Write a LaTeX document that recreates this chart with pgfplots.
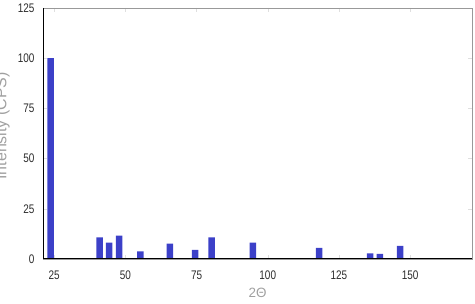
\documentclass[border=0pt]{standalone}
\usepackage{fontspec}
\setmainfont{Liberation Sans}
\newfontfamily\narrow[FakeStretch=0.8]{Liberation Sans}
\usepackage{pgfplots}
\pgfplotsset{compat=1.18}
\definecolor{barblue}{RGB}{60,64,200}
\definecolor{labgrey}{RGB}{160,160,160}
\definecolor{tickgrey}{RGB}{45,45,45}
\begin{document}
\begin{tikzpicture}
\useasboundingbox (0,0) rectangle (475bp,304bp);
\begin{axis}[
  at={(43bp,45bp)}, anchor=south west,
  scale only axis, width=429bp, height=251bp,
  xmin=21.1, xmax=171.7, ymin=0, ymax=125,
  xtick={25,50,75,100,125,150},
  ytick={0,25,50,75,100,125},
  ybar, bar width=6.5bp,
  axis line style={draw=gray!80, line width=0.6pt},
  tick style={draw=gray!25, line width=0.5pt},
  major tick length=4bp,
  tick align=inside,
  x tick label style={font=\narrow\fontsize{12.5}{13}\selectfont, text=tickgrey, yshift=-8bp},
  y tick label style={font=\narrow\fontsize{12.5}{13}\selectfont, text=tickgrey, xshift=-5bp},
  /pgf/number format/assume math mode=true,
  xlabel={2Θ},
  xlabel style={font=\fontsize{13.5}{14}\selectfont, text=labgrey, at={(axis description cs:0.5,0)}, anchor=center, yshift=-34bp},
  ylabel={Intensity (CPS)},
  ylabel style={font=\fontsize{16}{17}\selectfont, text=labgrey, at={(axis description cs:-0.0851,0.53)}, anchor=base},
]
\addplot[fill=barblue, draw=none] coordinates {
(23.8,100) (41.0,10.8) (44.3,8.1) (47.8,11.6) (55.3,3.8) (65.6,7.6)
(74.5,4.6) (80.3,10.8) (94.8,8.1) (118.0,5.5) (135.9,2.8) (139.4,2.5) (146.5,6.5)
};
\draw[black, line width=1.1pt] (rel axis cs:0,1) -- (rel axis cs:0,0) -- (rel axis cs:1,0);
\end{axis}
\end{tikzpicture}
\end{document}
